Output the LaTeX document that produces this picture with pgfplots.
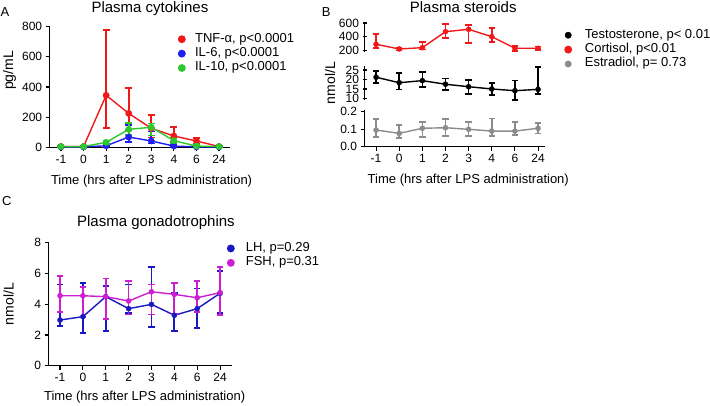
\documentclass[border=0pt]{standalone}
\usepackage{fontspec}
\setmainfont{Liberation Sans}
\usepackage{pgfplots}
\pgfplotsset{compat=1.18}
\definecolor{cred}{RGB}{240,24,24}
\definecolor{cblue}{RGB}{30,30,240}
\definecolor{cgreen}{RGB}{45,200,45}
\definecolor{cgray}{RGB}{140,140,140}
\definecolor{clh}{RGB}{25,25,195}
\definecolor{cfsh}{RGB}{205,30,210}
\pgfplotsset{
  gp/.style={
    scale only axis, clip=false,
    axis lines=left,
    axis line style={-, line width=1.1pt},
    tick style={line width=1.1pt, black},
    tick align=outside, major tick length=4pt,
    xtick={0,...,7}, xticklabels={-1,0,1,2,3,4,6,24},
    xmin=-0.5, xmax=7.5,
    ticklabel style={font=\fontsize{12}{14}\selectfont},
    /pgf/number format/assume math mode=true,
    label style={font=\fontsize{13}{15}\selectfont},
    ylabel style={font=\fontsize{14}{16}\selectfont},
    title style={font=\fontsize{15}{18}\selectfont},
    every axis title shift=0pt,
    legend style={draw=none, fill=none, inner sep=0pt, outer sep=0pt, anchor=north west,
      row sep=0pt, font=\fontsize{13}{15}\selectfont,
      nodes={inner sep=0pt, text height=10pt, text depth=4.4pt}},
    legend cell align=left,
  },
  eb/.style={line width=1.4pt, mark=*, mark size=3.2pt, mark options={line width=0.3pt},
    error bars/y dir=both, error bars/y explicit,
    error bars/error bar style={line width=1.7pt},
    error bars/error mark options={rotate=90, mark size=3.5pt, line width=1.7pt}},
  ebs/.style={line width=1.4pt, mark=*, mark size=2.6pt, mark options={line width=0.3pt},
    error bars/y dir=both, error bars/y explicit,
    error bars/error bar style={line width=1.7pt},
    error bars/error mark options={rotate=90, mark size=3.2pt, line width=1.7pt}},
}
\begin{document}
\begin{tikzpicture}
\path[use as bounding box] (0pt,0pt) rectangle (710pt,-405pt);
\node[anchor=base west, font=\fontsize{13}{15}\selectfont, inner sep=0pt] at (0.5pt,-16.5pt) {A};
\node[anchor=base west, font=\fontsize{13}{15}\selectfont, inner sep=0pt] at (321.7pt,-16.5pt) {B};
\node[anchor=base west, font=\fontsize{13}{15}\selectfont, inner sep=0pt] at (2pt,-205pt) {C};

% ---------------- Panel A
\begin{axis}[gp, at={(49.7pt,-147.3pt)}, anchor=south west, width=180.6pt, height=120.6pt,
  ymin=0, ymax=800, ytick={0,200,400,600,800},
  title={Plasma cytokines}, title style={at={(axis description cs:0.555,1.116)}, anchor=base, yshift=0pt},
  xlabel={Time (hrs after LPS administration)}, xlabel style={at={(axis description cs:0.564,-0.308)}, anchor=base},
  ylabel={pg/mL}, ylabel style={at={(axis description cs:-0.223,0.637)}, anchor=center},
  legend style={at={(axis description cs:0.710,0.956)}},
  legend image code/.code={\fill (3pt,0pt) circle (3.2pt); \path[draw=none] (0pt,0pt) -- (16.3pt,0pt);},
]
\addplot[eb, color=cred] coordinates {
 (0,5) +- (0,3)
 (1,5) +- (0,3)
 (2,345) += (0,435) -= (0,218)
 (3,225) += (0,170) -= (0,110)
 (4,126) += (0,86) -= (0,60)
 (5,75) += (0,62) -= (0,40)
 (6,42) += (0,20) -= (0,20)
 (7,5) +- (0,3)
};
\addlegendentry{TNF-α, p<0.0001}
\addplot[eb, color=cblue] coordinates {
 (0,3) +- (0,2)
 (1,3) +- (0,2)
 (2,10) +- (0,5)
 (3,68) += (0,80) -= (0,31)
 (4,42) += (0,63) -= (0,16)
 (5,8) +- (0,6)
 (6,3) +- (0,2)
 (7,3) +- (0,2)
};
\addlegendentry{IL-6,  p<0.0001}
\addplot[eb, color=cgreen] coordinates {
 (0,5) +- (0,3)
 (1,5) +- (0,3)
 (2,33) +- (0,10)
 (3,119) += (0,44) -= (0,37)
 (4,133) += (0,25) -= (0,55)
 (5,44) += (0,16) -= (0,14)
 (6,8) +- (0,5)
 (7,5) +- (0,3)
};
\addlegendentry{IL-10, p<0.0001}
\end{axis}

% ---------------- Panel B top (cortisol)
\begin{axis}[gp, at={(364.5pt,-52pt)}, anchor=south west, width=180.5pt, height=30.3pt,
  xmin=-0.5, xmax=7.3, axis x line=none, axis y line=left, xtick={},
  axis line style={-, line width=1.1pt},
  ymin=178, ymax=619, ytick={200,400,600},
  title={Plasma steroids}, title style={at={(axis description cs:0.547,1.32)}, anchor=base, yshift=0pt},
  legend style={at={(axis description cs:1.107,0.792)}},
  legend image code/.code={\fill (3pt,0pt) circle (3.2pt); \path[draw=none] (0pt,0pt) -- (19.7pt,0pt);},
]
\addlegendimage{color=black, mark=*}
\addlegendentry{Testosterone, p< 0.01}
\addplot[ebs, color=cred] coordinates {
 (0,290) += (0,146) -= (0,49)
 (1,222) +- (0,22)
 (2,241) += (0,87) -= (0,26)
 (3,474) += (0,107) -= (0,96)
 (4,508) += (0,63) -= (0,203)
 (5,401) += (0,122) -= (0,73)
 (6,232) += (0,38) -= (0,39)
 (7,232) += (0,26) -= (0,25)
};
\addlegendentry{Cortisol, p<0.01}
\addlegendimage{color=cgray, mark=*}
\addlegendentry{Estradiol, p= 0.73}
\end{axis}

% ---------------- Panel B middle (testosterone)
\begin{axis}[gp, at={(364.5pt,-100pt)}, anchor=south west, width=180.5pt, height=34pt,
  xmin=-0.5, xmax=7.3, axis x line=none, axis y line=left, xtick={},
  axis line style={-, line width=1.1pt},
  ymin=9.2, ymax=27.1, ytick={10,15,20,25},
  ylabel={nmol/L}, ylabel style={at={(axis description cs:-0.191,0.5)}, anchor=center},
]
\addplot[ebs, color=black] coordinates {
 (0,21.2) += (0,3.4) -= (0,3.2)
 (1,18.3) += (0,5.0) -= (0,3.5)
 (2,19.4) += (0,4.4) -= (0,3.5)
 (3,17.5) += (0,3.1) -= (0,3.0)
 (4,16.2) += (0,3.5) -= (0,3.8)
 (5,15.0) += (0,3.0) -= (0,3.2)
 (6,14.1) += (0,5.3) -= (0,4.9)
 (7,14.8) += (0,11.6) -= (0,2.6)
};
\end{axis}

% ---------------- Panel B bottom (estradiol)
\begin{axis}[gp, at={(364.5pt,-146.7pt)}, anchor=south west, width=180.5pt, height=36.7pt,
  xmin=-0.5, xmax=7.3,
  ymin=0, ymax=0.209, ytick={0,0.1,0.2}, yticklabels={0.0,0.1,0.2},
  xlabel={Time (hrs after LPS administration)}, xlabel style={at={(axis description cs:0.575,-1.016)}, anchor=base},
]
\addplot[ebs, color=cgray] coordinates {
 (0,0.095) += (0,0.061) -= (0,0.038)
 (1,0.076) += (0,0.047) -= (0,0.028)
 (2,0.105) += (0,0.037) -= (0,0.048)
 (3,0.108) += (0,0.049) -= (0,0.047)
 (4,0.099) += (0,0.043) -= (0,0.038)
 (5,0.089) += (0,0.072) -= (0,0.028)
 (6,0.089) += (0,0.053) -= (0,0.023)
 (7,0.105) += (0,0.031) -= (0,0.029)
};
\end{axis}

% ---------------- Panel C
\begin{axis}[gp, at={(48.6pt,-365.7pt)}, anchor=south west, width=182.9pt, height=123pt,
  ymin=0, ymax=8, ytick={0,2,4,6,8},
  title={Plasma gonadotrophins}, title style={at={(axis description cs:0.587,1.130)}, anchor=base, yshift=0pt},
  xlabel={Time (hrs after LPS administration)}, xlabel style={at={(axis description cs:0.525,-0.285)}, anchor=base},
  ylabel={nmol/L}, ylabel style={at={(axis description cs:-0.219,0.5)}, anchor=center},
  legend style={at={(axis description cs:0.975,1.012)}},
  legend image code/.code={\fill (3pt,0pt) circle (3.2pt); \path[draw=none] (0pt,0pt) -- (18pt,0pt);},
]
\addplot[ebs, color=clh] coordinates {
 (0,2.97) += (0,2.32) -= (0,0.39)
 (1,3.19) += (0,2.17) -= (0,1.04)
 (2,4.49) += (0,0.69) -= (0,2.23)
 (3,3.71) += (0,1.58) -= (0,0.30)
 (4,3.99) += (0,2.45) -= (0,1.45)
 (5,3.28) += (0,1.43) -= (0,1.02)
 (6,3.71) += (0,1.32) -= (0,1.28)
 (7,4.71) += (0,1.45) -= (0,1.26)
};
\addlegendentry{LH, p=0.29}
\addplot[ebs, color=cfsh] coordinates {
 (0,4.55) += (0,1.30) -= (0,1.04)
 (1,4.55) += (0,0.59) -= (0,1.36)
 (2,4.49) += (0,1.19) -= (0,1.47)
 (3,4.21) += (0,1.32) -= (0,0.87)
 (4,4.81) += (0,0.48) -= (0,1.47)
 (5,4.64) += (0,0.76) -= (0,1.28)
 (6,4.42) += (0,1.11) -= (0,0.91)
 (7,4.75) += (0,1.69) -= (0,1.45)
};
\addlegendentry{FSH, p=0.31}
\end{axis}
\end{tikzpicture}
\end{document}
